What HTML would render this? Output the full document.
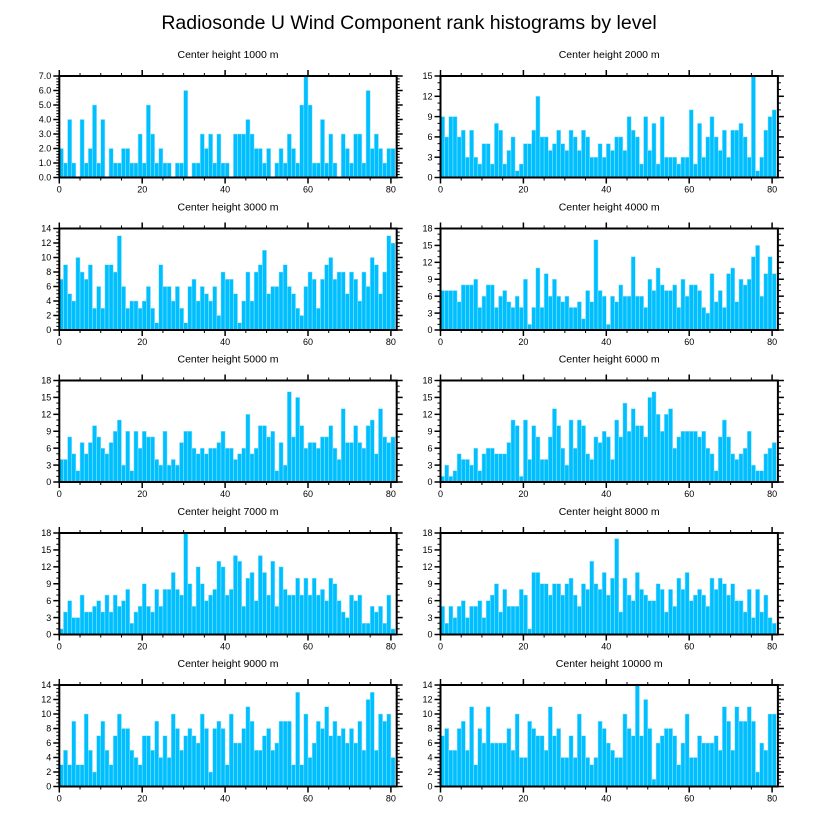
<!DOCTYPE html>
<html>
<head>
<meta charset="utf-8">
<style>
  html, body { margin: 0; padding: 0; background: #fff; }
  svg { display: block; font-family: "Liberation Sans", "DejaVu Sans", sans-serif; }
</style>
</head>
<body>
<svg id="chart" width="818" height="824" viewBox="0 0 818 824" xmlns="http://www.w3.org/2000/svg">
  <text x="409" y="29" text-anchor="middle" font-size="19.5" fill="#000">Radiosonde U Wind Component rank histograms by level</text>
</svg>
<script>
const panelTitles = ["Center height 1000 m","Center height 2000 m","Center height 3000 m","Center height 4000 m","Center height 5000 m","Center height 6000 m","Center height 7000 m","Center height 8000 m","Center height 9000 m","Center height 10000 m"];
const yMaxes = [7, 15, 14, 18, 18, 18, 18, 18, 14, 14];
const yStepValues = [1, 3, 2, 3, 3, 3, 3, 3, 2, 2];
const yLabelDecimals = [1, 0, 0, 0, 0, 0, 0, 0, 0, 0];
const xTickLabels = [0, 20, 40, 60, 80];
const counts1000 = [2,1,4,1,0,4,1,2,5,1,4,0,2,1,1,2,2,1,1,3,1,5,3,1,2,1,1,0,1,1,6,0,1,1,3,2,3,1,3,1,1,0,3,3,3,4,3,2,2,1,2,0,1,2,1,3,2,1,5,7,5,1,1,4,1,3,1,0,3,2,1,3,3,1,6,2,3,2,1,2,2];
const counts2000 = [9,6,9,9,6,7,3,7,3,2,5,5,2,8,7,2,4,6,1,2,5,5,7,12,6,6,4,5,7,5,4,7,6,4,7,6,3,3,5,3,5,4,6,6,4,9,7,6,2,9,4,8,2,9,3,3,3,2,3,3,10,2,8,3,6,9,6,4,7,3,7,7,8,6,3,15,1,3,7,9,10];
const counts3000 = [7,9,5,4,10,8,7,9,3,6,3,9,9,8,13,6,3,4,4,3,4,6,3,1,9,6,6,4,6,3,1,6,7,4,6,5,4,6,2,8,7,7,5,1,4,8,4,8,9,11,5,6,6,8,9,6,5,3,2,6,8,7,3,7,9,10,7,8,8,5,8,7,4,8,6,10,9,5,8,13,12];
const counts4000 = [7,7,7,7,5,8,8,8,9,4,6,8,8,4,6,7,5,4,6,4,9,1,4,11,4,10,6,9,6,5,6,4,4,5,2,7,5,16,7,6,1,6,5,8,6,6,13,6,6,4,9,7,11,8,7,7,8,4,9,6,8,8,7,4,3,10,5,7,4,10,11,5,9,8,9,13,15,6,10,13,10];
const counts5000 = [4,4,8,5,2,7,5,7,10,8,6,5,7,9,11,3,9,2,9,6,9,8,8,4,3,9,3,4,3,7,9,9,6,5,6,5,6,6,7,9,6,6,4,5,6,12,5,6,10,10,8,9,2,7,3,16,8,15,10,6,7,7,6,8,8,10,6,4,13,7,7,10,7,6,10,11,5,13,8,7,8];
const counts6000 = [1,3,1,2,5,4,4,3,6,2,5,6,6,5,5,5,7,11,10,1,11,4,10,8,4,4,8,13,10,6,3,11,6,11,10,5,4,8,7,9,8,4,11,8,14,9,13,10,10,8,15,16,12,9,12,13,6,8,9,9,9,9,8,9,6,5,2,8,11,8,5,4,5,6,9,3,2,2,5,6,7];
const counts7000 = [1,4,6,3,3,7,4,4,5,6,4,7,4,7,5,6,8,2,4,5,9,5,4,8,5,8,8,11,8,7,18,9,5,12,9,6,7,8,13,12,7,8,14,13,5,10,11,6,14,11,7,13,5,12,8,7,7,10,7,10,7,10,7,8,6,10,9,6,4,3,7,6,7,2,2,5,4,5,2,7,1];
const counts8000 = [5,2,5,3,5,6,3,5,5,6,3,6,7,9,4,8,5,5,5,8,7,1,11,11,9,9,7,9,9,7,9,10,7,5,9,8,13,9,8,11,7,10,17,4,10,7,6,11,8,7,6,6,9,8,4,8,5,10,8,11,6,7,8,7,5,10,8,10,9,7,9,6,6,4,8,3,8,4,7,3,2];
const counts9000 = [3,5,3,9,3,3,10,5,2,7,9,5,3,7,10,8,8,5,4,3,7,7,5,9,4,7,4,10,8,5,7,8,7,6,10,8,2,8,9,8,3,10,6,6,8,11,9,5,5,7,8,5,6,9,9,9,3,13,3,10,4,6,9,8,11,7,9,7,8,6,8,6,9,5,12,13,5,10,9,10,4];
const counts10000 = [7,8,5,5,8,9,5,11,3,8,6,11,6,6,6,6,8,5,10,4,4,9,8,7,7,5,11,7,8,4,4,7,4,10,7,4,3,4,9,8,6,5,4,4,10,8,7,14,7,12,8,1,6,7,8,8,7,3,6,10,4,4,7,6,6,6,7,5,11,9,5,11,9,9,11,9,2,6,5,10,10];
const allCounts = [counts1000,counts2000,counts3000,counts4000,counts5000,counts6000,counts7000,counts8000,counts9000,counts10000];

const NS = "http://www.w3.org/2000/svg";
const svg = document.getElementById("chart");
const X_MIN = 0, X_MAX = 81.4;
const panelW = 337.4, panelH = 101.5;
const lefts = [59.3, 440.5];
const tops = [76, 228.5, 380.5, 533, 685];

function mk(tag, attrs, parent) {
  const e = document.createElementNS(NS, tag);
  for (const k in attrs) e.setAttribute(k, attrs[k]);
  parent.appendChild(e);
  return e;
}

allCounts.forEach((counts, p) => {
  const L = lefts[p % 2], T = tops[Math.floor(p / 2)], B = T + panelH, R = L + panelW;
  const ymax = yMaxes[p];
  const xs = v => L + (v - X_MIN) / (X_MAX - X_MIN) * panelW;
  const ys = v => B - v / ymax * panelH;
  const g = mk("g", {}, svg);
  
  

  const t = mk("text", {x: (L + R) / 2, y: T - 18, "text-anchor": "middle", "font-size": "10.5"}, g);
  
  
  t.textContent = panelTitles[p];

  counts.forEach((c, i) => {
    if (c <= 0) return;
    const r = mk("rect", {x: xs(i), y: ys(c), width: xs(i + 1) - xs(i), height: B - ys(c), fill: "#00BFFF", stroke: "#9fe4ff", "stroke-width": "0.5"}, g);
    
    
  });

  // x ticks top & bottom
  for (let v = 0; v <= 80; v += 5) {
    const major = v % 20 === 0;
    const len = major ? 6 : 3;
    const x = xs(v);
    mk("line", {x1: x, y1: B, x2: x, y2: B + len, stroke: "#000", "stroke-width": major ? 1.5 : 1}, g);
    mk("line", {x1: x, y1: T, x2: x, y2: T - len, stroke: "#000", "stroke-width": major ? 1.5 : 1}, g);
  }
  xTickLabels.forEach(v => {
    const lt = mk("text", {x: xs(v), y: B + 15, "text-anchor": "middle", "font-size": "9"}, g);
    
    
    lt.textContent = v;
  });

  // y ticks left & right
  const step = yStepValues[p];
  const minor = step / (step === 3 ? 3 : (step === 2 ? 4 : 5));
  for (let v = 0; v <= ymax + 1e-9; v += minor) {
    const isMajor = Math.abs(v / step - Math.round(v / step)) < 1e-6;
    const len = isMajor ? 6 : 3;
    const y = ys(v);
    mk("line", {x1: L, y1: y, x2: L - len, y2: y, stroke: "#000", "stroke-width": isMajor ? 1.5 : 1}, g);
    mk("line", {x1: R, y1: y, x2: R + len, y2: y, stroke: "#000", "stroke-width": isMajor ? 1.5 : 1}, g);
  }
  for (let v = 0; v <= ymax + 1e-9; v += step) {
    const lt = mk("text", {x: L - 8, y: ys(v) + 3.2, "text-anchor": "end", "font-size": "9"}, g);
    
    
    lt.textContent = v.toFixed(yLabelDecimals[p]);
  }

  const f = mk("rect", {x: L, y: T, width: panelW, height: panelH, fill: "none", stroke: "#000", "stroke-width": "2"}, g);
  
  
});
</script>
</body>
</html>
